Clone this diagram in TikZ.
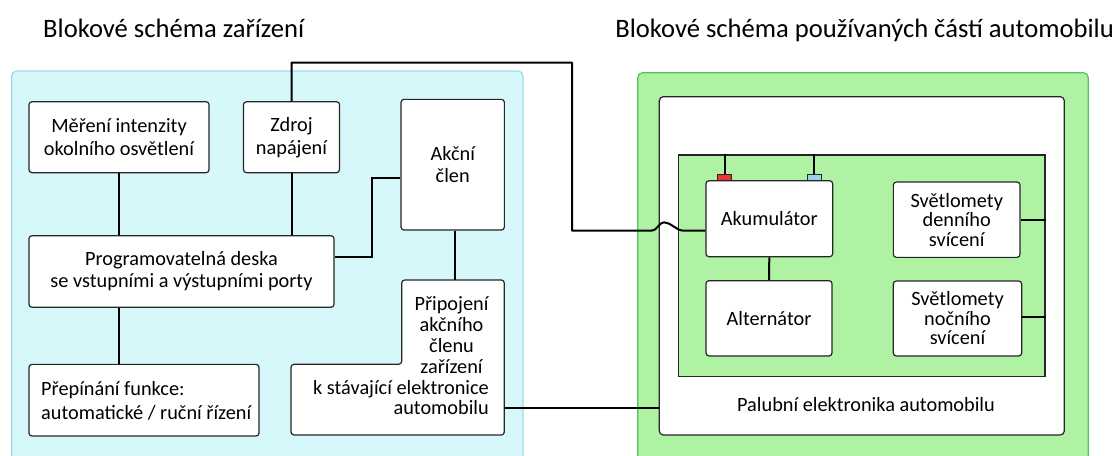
\documentclass[tikz,border=0pt]{standalone}
\usepackage{fontspec}
\setmainfont{Carlito}
\definecolor{cyanfill}{RGB}{214,248,250}
\definecolor{cyanedge}{RGB}{158,216,232}
\definecolor{greenfill}{RGB}{176,242,164}
\definecolor{greenedge}{RGB}{78,196,94}
\definecolor{termred}{RGB}{240,52,52}
\definecolor{termblue}{RGB}{158,208,232}
\newcommand\bodyfont{\fontsize{20.3}{23}\selectfont}
\newcommand\titlefont{\fontsize{26.6}{30}\selectfont}
\tikzset{
  blk/.style={draw=black!85, line width=1.2pt, fill=white, rounded corners=3pt,
              inner sep=0pt, align=center, font=\bodyfont},
  wire/.style={draw=black, line width=2pt},
  panel/.style={rounded corners=5pt, line width=1.2pt},
  term/.style={draw=black!85, line width=1pt, inner sep=0pt,
               minimum width=14pt, minimum height=6pt},
  txt/.style={inner sep=0pt, font=\bodyfont},
}
\begin{document}
\begin{tikzpicture}[x=1pt,y=-1pt]
\useasboundingbox (0,0) rectangle (1118,455);
\clip (0,0) rectangle (1118,455);

% titles
\node[inner sep=0pt, anchor=base west, font=\titlefont] (t1) at (43,37.7) {Blokové schéma zařízení};
\node[inner sep=0pt, anchor=base east, font=\titlefont] (t2) at (1114,37.7) {Blokové schéma používaných částí automobilu};

% background panels
\draw[panel, fill=cyanfill, draw=cyanedge] (11.7,71) rectangle (523,480);
\draw[panel, fill=greenfill, draw=greenedge] (637.7,72.7) rectangle (1088.3,480);

% car electronics
\node[draw=black!85, line width=1.2pt, fill=white, rounded corners=4pt,
      minimum width=405pt, minimum height=338.3pt, inner sep=0pt] (deck) at (861.8,265.85) {};
\node[draw=black!85, line width=1.2pt, fill=greenfill,
      minimum width=366.7pt, minimum height=221.7pt, inner sep=0pt] (bus) at (861.65,265.85) {};
\node[txt] (decktxt) at (866,405) {Palubní elektronika automobilu};

\node[blk, minimum width=126.7pt, minimum height=76pt] (akum) at (769.3,218.7) {Akumulátor};
\node[blk, minimum width=126pt, minimum height=75.3pt] (alt) at (769,318.3) {Alternátor};
\node[blk, minimum width=126.7pt, minimum height=75.3pt,
      font=\fontsize{20.3}{19.5}\selectfont] (day) at (956.7,219.7) {Světlomety\\denního\\svícení};
\node[blk, minimum width=128.4pt, minimum height=75pt,
      font=\fontsize{20.3}{19.5}\selectfont] (night) at (957.5,318.5) {Světlomety\\nočního\\svícení};

\node[term, fill=termred] (plus) at (724.7,177.3) {};
\node[term, fill=termblue] (minus) at (814.2,177.3) {};

\draw[wire] (plus.north) -- (plus.north |- bus.north);
\draw[wire] (minus.north) -- (minus.north |- bus.north);
\draw[wire] (akum.south) -- (alt.north);
\draw[wire] (day.east) -- (day.east -| bus.east);
\draw[wire] (night.east |- 0,316.7) -- (bus.east |- 0,316.7);

% device blocks
\node[blk, minimum width=180pt, minimum height=71pt] (mer) at (119,137.2) {Měření intenzity\\okolního osvětlení};
\node[blk, minimum width=96pt, minimum height=71pt] (zdroj) at (291.5,137.2) {Zdroj\\napájení};
\node[blk, minimum width=103.3pt, minimum height=130.7pt,
      font=\fontsize{20.3}{22.3}\selectfont] (akcni) at (452.7,164.7) {Akční\\člen};
\node[blk, minimum width=305pt, minimum height=71.6pt,
      font=\fontsize{20.3}{22}\selectfont] (prog) at (181.5,271.5) {Programovatelná deska\\se vstupními a výstupními porty};
\node[blk, minimum width=230pt, minimum height=71.7pt] (prep) at (144,400.2) {};
\node[txt, align=left, anchor=west, font=\fontsize{20.3}{24}\selectfont] (preptxt) at (41,400.5)
  {Přepínání funkce:\\automatické / ruční řízení};

% L-shaped connection block
\coordinate (conTop) at (455,280);
\coordinate (conOut) at (504.3,408.3);
\draw[draw=black!85, line width=1.2pt, fill=white, rounded corners=3pt]
  (401.7,280) -- (504.3,280) -- (504.3,435) -- (291,435) -- (291,364.3)
  -- (401.7,364.3) -- cycle;
\node[txt, align=center, font=\fontsize{20.3}{21}\selectfont] (conA) at (451.5,335)
  {Připojení\\akčního\\členu\\zařízení};
\node[txt, align=right, anchor=east, font=\fontsize{20.3}{20.7}\selectfont] (conB) at (489,397.4)
  {k stávající elektronice\\automobilu};

% device wiring
\draw[wire] (mer.south) -- (mer.south |- prog.north);
\draw[wire] (zdroj.south) -- (zdroj.south |- prog.north);
\draw[wire] (prog.south -| mer.south) -- (prep.north -| mer.south);
\draw[wire] (prog.east |- 0,257.3) -| (371.7,177.7) -- (akcni.west |- 0,177.7);
\draw[wire] (akcni.south -| conTop) -- (conTop);
\draw[wire] (conOut) -- (deck.west |- conOut);

% supply line to the battery, hopping over the panel edge
\draw[wire, line join=round] (zdroj.north) |- (572,62.7) |- (651.7,230.7)
  .. controls (657,230.7) and (659,222.3) .. (664,222.3)
  .. controls (671,222.3) and (676,230.7) .. (684,230.7)
  -- (akum.west |- 0,230.7);
\end{tikzpicture}
\end{document}
